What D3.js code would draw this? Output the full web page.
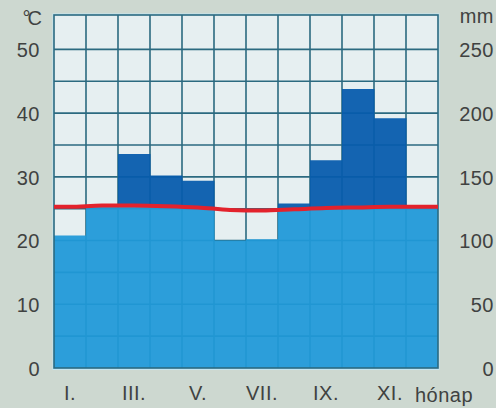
<!DOCTYPE html>
<html>
<head>
<meta charset="utf-8">
<script src="https://cdn.jsdelivr.net/npm/d3@7"></script>
<style>
  html, body { margin: 0; padding: 0; background: #cdd8d0; }
  svg { display: block; }
  text { font-family: 'Liberation Sans', Arial, sans-serif; fill: #404241; letter-spacing: 0.5px; }
</style>
</head>
<body>
<div id="chart"></div>
<script>
(function() {

  'use strict';

  // monthly climate values
  var months = ['I.', 'II.', 'III.', 'IV.', 'V.', 'VI.', 'VII.', 'VIII.', 'IX.', 'X.', 'XI.', 'XII.'];
  var monthLabels = ['I.', '', 'III.', '', 'V.', '', 'VII.', '', 'IX.', '', 'XI.', ''];
  var temperature = [25.3, 25.5, 25.5, 25.4, 25.2, 24.8, 24.7, 24.9, 25.1, 25.2, 25.3, 25.3];
  var precipitation = [104, 127, 168, 151, 147, 100, 101, 129, 163, 219, 196, 126];
  var tempTicks = [0, 10, 20, 30, 40, 50];
  var precTicks = [0, 50, 100, 150, 200, 250];

  var WIDTH = 496;
  var HEIGHT = 408;
  var LEFT = 54;
  var RIGHT = 438;
  var TOP = 15;
  var BOTTOM = 368;
  var FONT = 20;

  var svg = d3.select('#chart').append('svg')
    .attr('width', WIDTH)
    .attr('height', HEIGHT);

  svg.append('rect')
    .attr('width', WIDTH)
    .attr('height', HEIGHT)
    .attr('fill', '#cdd8d0');

  var x = d3.scaleBand()
    .domain(months)
    .range([LEFT, RIGHT])
    .padding(0);

  var y = d3.scaleLinear()
    .domain([0, 55.4])
    .range([BOTTOM, TOP]);

  // 50 mm of rain on the same height as 10 °C
  var yPrec = d3.scaleLinear()
    .domain([0, 277])
    .range([BOTTOM, TOP]);

  var step = x.bandwidth();

  // plot background
  svg.append('rect')
    .attr('x', LEFT - 1.5)
    .attr('y', TOP - 1.5)
    .attr('width', RIGHT - LEFT + 3)
    .attr('height', BOTTOM - TOP + 3.5)
    .attr('fill', '#c4e6f2');

  svg.append('rect')
    .attr('x', LEFT)
    .attr('y', TOP)
    .attr('width', RIGHT - LEFT)
    .attr('height', BOTTOM - TOP)
    .attr('fill', '#e6eff1');

  // grid, under the fills so it only shows faintly through them
  var grid = svg.append('g').attr('class', 'grid');

  grid.selectAll('line.h')
    .data(d3.range(5, 55, 5))
    .enter()
    .append('line')
    .attr('class', 'h')
    .attr('x1', LEFT)
    .attr('x2', RIGHT)
    .attr('y1', function(d) { return y(d); })
    .attr('y2', function(d) { return y(d); });

  grid.selectAll('line.v')
    .data(months.slice(1))
    .enter()
    .append('line')
    .attr('class', 'v')
    .attr('x1', function(d) { return x(d); })
    .attr('x2', function(d) { return x(d); })
    .attr('y1', TOP)
    .attr('y2', BOTTOM);

  grid.selectAll('line')
    .attr('stroke', '#2b6a80')
    .attr('stroke-width', 1.6);

  // precipitation bars used as clip for the humid part
  var clip = svg.append('clipPath').attr('id', 'bars');
  clip.selectAll('rect')
    .data(precipitation)
    .enter()
    .append('rect')
    .attr('x', function(d, i) { return x(months[i]); })
    .attr('y', function(d) { return yPrec(d); })
    .attr('width', step + 0.5)
    .attr('height', function(d) { return BOTTOM - yPrec(d); });

  var fills = svg.append('g')
    .attr('clip-path', 'url(#bars)')
    .attr('opacity', 0.94);

  fills.append('rect')
    .attr('x', LEFT)
    .attr('y', TOP)
    .attr('width', RIGHT - LEFT)
    .attr('height', BOTTOM - TOP)
    .attr('fill', '#075cad');

  // temperature points, held flat out to the frame edges
  var points = temperature.map(function(t, i) {
    return [x(months[i]) + step / 2, t];
  });
  points.unshift([LEFT, temperature[0]]);
  points.push([RIGHT, temperature[temperature.length - 1]]);

  var area = d3.area()
    .x(function(d) { return d[0]; })
    .y0(BOTTOM)
    .y1(function(d) { return y(d[1]); })
    .curve(d3.curveMonotoneX);

  fills.append('path')
    .datum(points)
    .attr('d', area)
    .attr('fill', '#2099d8');

  // frame
  svg.append('rect')
    .attr('x', LEFT)
    .attr('y', TOP)
    .attr('width', RIGHT - LEFT)
    .attr('height', BOTTOM - TOP)
    .attr('fill', 'none')
    .attr('stroke', '#2b6a80')
    .attr('stroke-width', 1.6);

  var line = d3.line()
    .x(function(d) { return d[0]; })
    .y(function(d) { return y(d[1]); })
    .curve(d3.curveMonotoneX);

  svg.append('path')
    .datum(points)
    .attr('d', line)
    .attr('fill', 'none')
    .attr('stroke', '#e3222c')
    .attr('stroke-width', 4);

  // axes
  var leftAxis = svg.append('g')
    .attr('transform', 'translate(' + (LEFT - 14) + ',1)')
    .call(d3.axisLeft(y).tickValues(tempTicks).tickSize(0).tickPadding(0));

  var rightAxis = svg.append('g')
    .attr('transform', 'translate(' + 494 + ',1)')
    .call(d3.axisLeft(yPrec).tickValues(precTicks).tickSize(0).tickPadding(0));

  var bottomAxis = svg.append('g')
    .attr('transform', 'translate(0,' + (BOTTOM + 18) + ')')
    .call(d3.axisBottom(x).tickFormat(function(d, i) { return monthLabels[i]; }).tickSize(0).tickPadding(0));

  [leftAxis, rightAxis, bottomAxis].forEach(function(axis) {
    axis.select('.domain').remove();
    axis.selectAll('text')
      .attr('font-size', FONT)
      .attr('font-family', null)
      .attr('fill', '#404241');
  });

  svg.append('text')
    .attr('x', LEFT - 15)
    .attr('y', 25)
    .attr('text-anchor', 'end')
    .attr('font-size', FONT)
    .style('letter-spacing', '-3px')
    .text('°C');

  svg.append('text')
    .attr('x', 494)
    .attr('y', 23)
    .attr('text-anchor', 'end')
    .attr('font-size', FONT)
    .text('mm');

  svg.append('text')
    .attr('x', 444)
    .attr('y', BOTTOM + 34)
    .attr('text-anchor', 'middle')
    .attr('font-size', FONT)
    .text('hónap');

})();
</script>
</body>
</html>
